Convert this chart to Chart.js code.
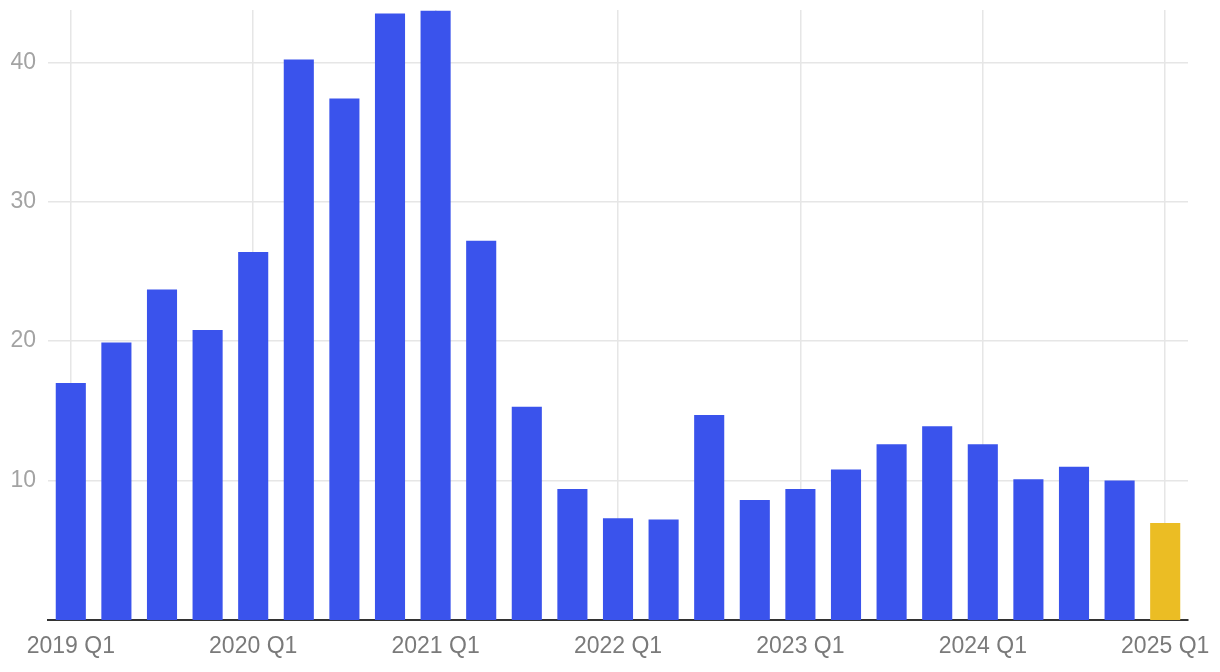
<!DOCTYPE html>
<html>
<head>
<meta charset="utf-8">
<script src="https://cdn.jsdelivr.net/npm/chart.js@4"></script>
<style>
  html, body { margin: 0; padding: 0; background: #fff; }
  #wrap { width: 1220px; height: 672px; position: relative; }
</style>
</head>
<body>
<div id="wrap"><canvas id="barChart"></canvas></div>
<script>
const quarters = [
  '2019 Q1', '2019 Q2', '2019 Q3', '2019 Q4',
  '2020 Q1', '2020 Q2', '2020 Q3', '2020 Q4',
  '2021 Q1', '2021 Q2', '2021 Q3', '2021 Q4',
  '2022 Q1', '2022 Q2', '2022 Q3', '2022 Q4',
  '2023 Q1', '2023 Q2', '2023 Q3', '2023 Q4',
  '2024 Q1', '2024 Q2', '2024 Q3', '2024 Q4',
  '2025 Q1'
];
const values = [
  17.0, 19.9, 23.7, 20.8,
  26.4, 40.2, 37.4, 43.5,
  43.7, 27.2, 15.3, 9.4,
  7.3, 7.2, 14.7, 8.6,
  9.4, 10.8, 12.6, 13.9,
  12.6, 10.1, 11.0, 10.0,
  6.95
];
const yTicks = [10, 20, 30, 40];

const blue = '#3a53ec';
const yellow = '#ebbd24';
const barColors = values.map((v, i) => i === values.length - 1 ? yellow : blue);

const ctx = document.getElementById('barChart').getContext('2d');

new Chart(ctx, {
  type: 'bar',
  data: {
    labels: quarters,
    datasets: [{
      data: values,
      backgroundColor: barColors,
      borderWidth: 0,
      barPercentage: 1,
      categoryPercentage: 0.66
    }]
  },
  options: {
    responsive: true,
    maintainAspectRatio: false,
    animation: false,
    layout: { padding: { top: 10, right: 32, left: 0, bottom: 0 } },
    plugins: {
      legend: { display: false },
      tooltip: { enabled: false }
    },
    scales: {
      x: {
        offset: true,
        grid: {
          offset: false,
          drawTicks: false,
          color: c => (c.index % 4 === 0 ? '#e6e6e6' : 'rgba(0,0,0,0)'),
          lineWidth: 1.5
        },
        border: { display: true, color: '#333', width: 2 },
        ticks: {
          autoSkip: false,
          maxRotation: 0,
          padding: 13,
          color: '#7a7a7a',
          font: { family: 'Liberation Sans, Arial, sans-serif', size: 23 },
          callback: function (val, i) { return i % 4 === 0 ? quarters[i] : ''; }
        },
        afterFit: s => { s.height = 52; s.paddingLeft = 0; s.paddingRight = 0; }
      },
      y: {
        min: 0,
        max: 43.75,
        grid: { color: '#e6e6e6', lineWidth: 1.5, drawTicks: false },
        border: { display: false },
        afterBuildTicks: s => { s.ticks = yTicks.map(v => ({ value: v })); },
        ticks: {
          padding: 12,
          color: '#a3a3a3',
          font: { family: 'Liberation Sans, Arial, sans-serif', size: 23 }
        },
        afterFit: s => { s.width = 48; s.paddingTop = 0; s.paddingBottom = 0; }
      }
    }
  }
});
</script>
</body>
</html>
